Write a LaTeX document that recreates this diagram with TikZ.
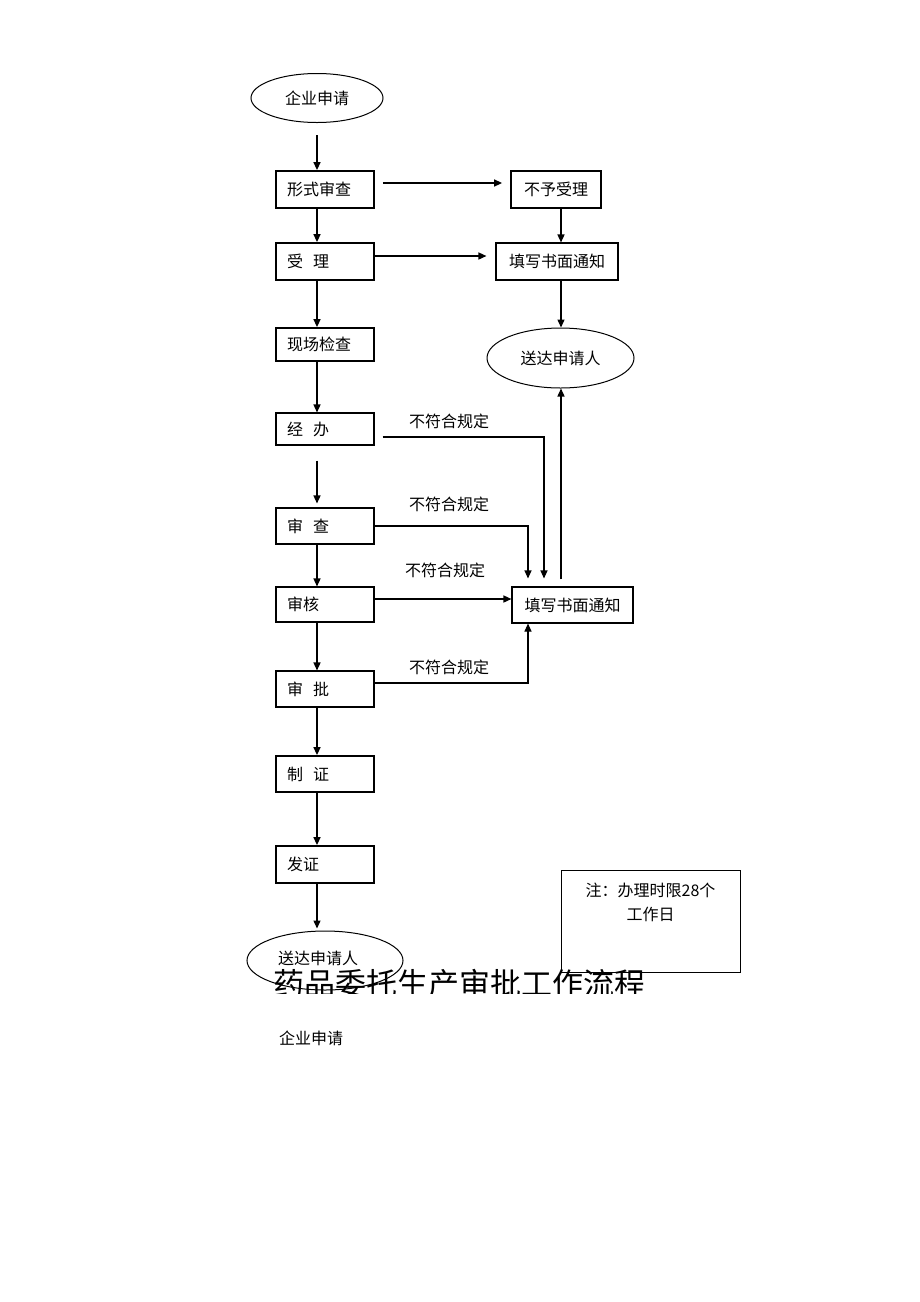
\documentclass[tikz,border=0pt]{standalone}
\usepackage{fontspec}
\setmainfont{Noto Sans CJK SC}
\usetikzlibrary{arrows.meta,shapes.geometric}
\begin{document}
\begin{tikzpicture}[x=1pt,y=-1pt,
  every node/.style={font=\fontsize{16}{19}\selectfont},
  box/.style={draw,line width=1.8pt,minimum height=37pt,inner sep=0pt},
  thinbox/.style={line width=1.1pt},
  lbox/.style={box,text width=76pt,inner xsep=11pt,align=left},
  ell/.style={draw,ellipse,line width=1pt,inner sep=0pt},
  arr/.style={line width=1.4pt,-{Triangle[length=8pt,width=7pt]}},
  barr/.style={line width=1.1pt,-{Triangle[length=8pt,width=7pt]}}]
\useasboundingbox (0,0) rectangle (920,1302);
\fill[white] (0,0) rectangle (920,1302);

% left column
\node[ell,minimum width=132pt,minimum height=49pt] (qy) at (317,98) {企业申请};
\node[lbox] (xs) at (325,189.5) {形式审查};
\node[lbox] (sl) at (325,261.5) {受\hspace{10pt}理};
\node[lbox,minimum height=33pt] (xc) at (325,344.5) {现场检查};
\node[lbox,thinbox,minimum height=32pt] (jb) at (325,429) {经\hspace{10pt}办};
\node[lbox,thinbox,minimum height=36pt] (sc) at (325,526) {审\hspace{10pt}查};
\node[lbox,thinbox,minimum height=35pt] (sh) at (325,604.5) {审核};
\node[lbox,thinbox,minimum height=36pt] (sp) at (325,689) {审\hspace{10pt}批};
\node[lbox,minimum height=36pt] (zz) at (325,774) {制\hspace{10pt}证};
\node[lbox] (fz) at (325,864.5) {发证};

% right column
\node[box,minimum width=90pt] (byl) at (556,189.5) {不予受理};
\node[box,thinbox,minimum width=122pt] (tx1) at (557,261.5) {填写书面通知};
\node[ell,minimum width=147pt,minimum height=60pt] (sd1) at (560.5,358) {送达申请人};
\node[box,thinbox,minimum width=121pt,minimum height=36pt] (tx2) at (572.5,605) {填写书面通知};

% note
\node[draw,line width=0.8pt,minimum width=179pt,minimum height=102pt,inner sep=0pt] (note) at (650.5,921) {};
\node[align=center,anchor=north,inner sep=0pt,font=\fontsize{16}{24}\selectfont] (nt) at ([yshift=-13pt]note.north) {注：办理时限28个\\工作日};

% clipped bottom part
\begin{scope}
\clip (0,0) rectangle (920,993);
\node[ell,minimum width=156pt,minimum height=59pt] (sd2) at (325,960.5) {};
\node (sd2t) at (318,958) {送达申请人};
\node[font=\fontsize{31}{31}\selectfont,anchor=base,inner sep=0pt] (title) at (459.5,995) {药品委托生产审批工作流程};
\end{scope}

\node (qy2) at (311,1038) {企业申请};

% labels
\node (l1) at (449,421) {不符合规定};
\node (l2) at (449,504) {不符合规定};
\node (l3) at (445,570) {不符合规定};
\node (l4) at (449,667) {不符合规定};

% main flow
\draw[arr] ([yshift=-12pt]qy.south) -- ([xshift=-8pt]xs.north);
\draw[arr] ([xshift=-8pt]xs.south) -- ([xshift=-8pt]sl.north);
\draw[arr] ([xshift=-8pt]sl.south) -- ([xshift=-8pt]xc.north);
\draw[arr] ([xshift=-8pt]xc.south) -- ([xshift=-8pt]jb.north);
\draw[arr] ([xshift=-8pt,yshift=-15pt]jb.south) -- ([xshift=-8pt,yshift=4pt]sc.north);
\draw[arr] ([xshift=-8pt]sc.south) -- ([xshift=-8pt]sh.north);
\draw[arr] ([xshift=-8pt]sh.south) -- ([xshift=-8pt]sp.north);
\draw[arr] ([xshift=-8pt]sp.south) -- ([xshift=-8pt]zz.north);
\draw[arr] ([xshift=-8pt]zz.south) -- ([xshift=-8pt]fz.north);
\draw[arr] ([xshift=-8pt]fz.south) -- ([xshift=-8pt,yshift=2pt]sd2.north);

% right side flow
\draw[arr] ([xshift=8pt,yshift=6.5pt]xs.east) -- ([xshift=-8pt,yshift=6.5pt]byl.west);
\draw[arr] ([yshift=5.5pt]sl.east) -- ([xshift=-9pt,yshift=5.5pt]tx1.west);
\draw[arr] ([xshift=5pt]byl.south) -- ([xshift=4pt]tx1.north);
\draw[arr] ([xshift=4pt]tx1.south) -- ([xshift=0.5pt]sd1.north);
\draw[arr] ([xshift=-11.5pt,yshift=7pt]tx2.north) -- ([xshift=0.5pt]sd1.south);

% rejections
\draw[barr] ([xshift=8pt,yshift=-8pt]jb.east) -| ([xshift=-28.5pt,yshift=8pt]tx2.north);
\draw[barr] (sc.east) -| ([xshift=-44.5pt,yshift=8pt]tx2.north);
\draw[arr] ([yshift=5.5pt]sh.east) -- ([yshift=6pt]tx2.west);
\draw[barr] ([yshift=6pt]sp.east) -| ([xshift=-44.5pt]tx2.south);
\end{tikzpicture}
\end{document}
